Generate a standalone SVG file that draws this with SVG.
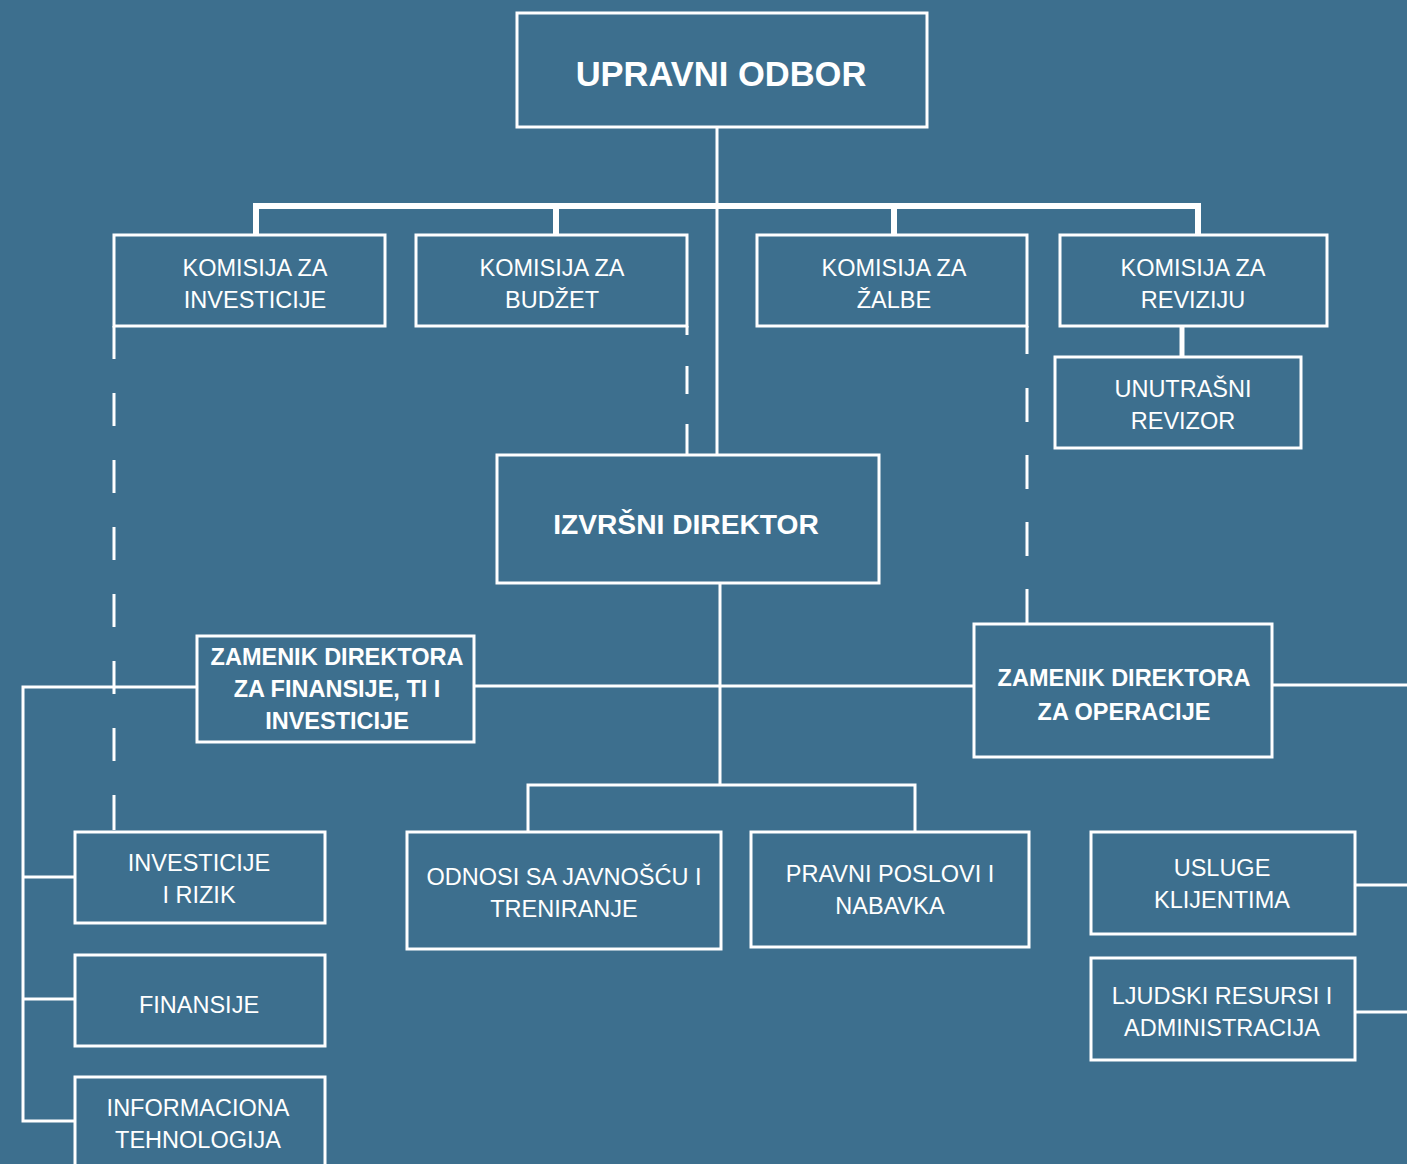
<svg xmlns="http://www.w3.org/2000/svg" width="1407" height="1164" viewBox="0 0 1407 1164">
<style>
.box{fill:none;stroke:#fff;stroke-width:3}
.ln{fill:none;stroke:#fff;stroke-width:3}
.thick{fill:none;stroke:#fff;stroke-width:6}
text{font-family:"Liberation Sans",Arial,sans-serif;fill:#fff;text-anchor:middle}
.r{font-size:23.5px}
.b{font-size:23.5px;font-weight:bold}
</style>
<rect width="1407" height="1164" fill="#3d6f8e"/>
<g id="connectors">
<path class="ln" d="M717 127V455"/>
<path class="thick" d="M256 235V206H1198V235M556 206V235M894 206V235"/>
<path class="thick" d="M1182 326V357" style="stroke-width:5"/>
<path class="ln" d="M114 326V359M114 393V426M114 460V493M114 527V560M114 594V627M114 661V694M114 728V761M114 795V830"/>
<path class="ln" d="M687 326V335M687 366V394M687 424V455"/>
<path class="ln" d="M1027 326V354M1027 388V422M1027 455V489M1027 522V556M1027 589V624"/>
<path class="ln" d="M720 583V785M528 832V785H915V832"/>
<path class="ln" d="M474 686H974M1273 685H1407"/>
<path class="ln" d="M197 687H23V1121H75M23 877H75M23 999H75"/>
<path class="ln" d="M1355 885H1407M1355 1012H1407"/>
</g>
<g id="upravni-odbor"><rect class="box" x="517" y="13" width="410" height="114"/><text x="721" y="86" style="font-size:34.5px;font-weight:bold">UPRAVNI ODBOR</text></g>
<g id="komisija-investicije"><rect class="box" x="114" y="235" width="271" height="91"/><text class="r" x="255" y="276">KOMISIJA ZA</text><text class="r" x="255" y="308">INVESTICIJE</text></g>
<g id="komisija-budzet"><rect class="box" x="416" y="235" width="271" height="91"/><text class="r" x="552" y="276">KOMISIJA ZA</text><text class="r" x="552" y="308">BUDŽET</text></g>
<g id="komisija-zalbe"><rect class="box" x="757" y="235" width="270" height="91"/><text class="r" x="894" y="276">KOMISIJA ZA</text><text class="r" x="894" y="308">ŽALBE</text></g>
<g id="komisija-reviziju"><rect class="box" x="1060" y="235" width="267" height="91"/><text class="r" x="1193" y="276">KOMISIJA ZA</text><text class="r" x="1193" y="308">REVIZIJU</text></g>
<g id="unutrasnji-revizor"><rect class="box" x="1055" y="357" width="246" height="91"/><text class="r" x="1183" y="397">UNUTRAŠNI</text><text class="r" x="1183" y="429">REVIZOR</text></g>
<g id="izvrsni-direktor"><rect class="box" x="497" y="455" width="382" height="128"/><text x="686" y="534" style="font-size:28.2px;font-weight:bold">IZVRŠNI DIREKTOR</text></g>
<g id="zamenik-finansije"><rect class="box" x="197" y="636" width="277" height="106"/><text class="b" x="337" y="665">ZAMENIK DIREKTORA</text><text class="b" x="337" y="697">ZA FINANSIJE, TI I</text><text class="b" x="337" y="729">INVESTICIJE</text></g>
<g id="zamenik-operacije"><rect class="box" x="974" y="624" width="298" height="133"/><text class="b" x="1124" y="686">ZAMENIK DIREKTORA</text><text class="b" x="1124" y="720">ZA OPERACIJE</text></g>
<g id="investicije-rizik"><rect class="box" x="75" y="832" width="250" height="91"/><text class="r" x="199" y="871">INVESTICIJE</text><text class="r" x="199" y="903">I RIZIK</text></g>
<g id="finansije"><rect class="box" x="75" y="955" width="250" height="91"/><text class="r" x="199" y="1013">FINANSIJE</text></g>
<g id="informaciona-tehnologija"><rect class="box" x="75" y="1077" width="250" height="100"/><text class="r" x="198" y="1116">INFORMACIONA</text><text class="r" x="198" y="1148">TEHNOLOGIJA</text></g>
<g id="odnosi-javnoscu"><rect class="box" x="407" y="832" width="314" height="117"/><text class="r" x="564" y="885">ODNOSI SA JAVNOŠĆU I</text><text class="r" x="564" y="917">TRENIRANJE</text></g>
<g id="pravni-poslovi"><rect class="box" x="751" y="832" width="278" height="115"/><text class="r" x="890" y="882">PRAVNI POSLOVI I</text><text class="r" x="890" y="914">NABAVKA</text></g>
<g id="usluge-klijentima"><rect class="box" x="1091" y="832" width="264" height="102"/><text class="r" x="1222" y="876">USLUGE</text><text class="r" x="1222" y="908">KLIJENTIMA</text></g>
<g id="ljudski-resursi"><rect class="box" x="1091" y="958" width="264" height="102"/><text class="r" x="1222" y="1004">LJUDSKI RESURSI I</text><text class="r" x="1222" y="1036">ADMINISTRACIJA</text></g>
</svg>
